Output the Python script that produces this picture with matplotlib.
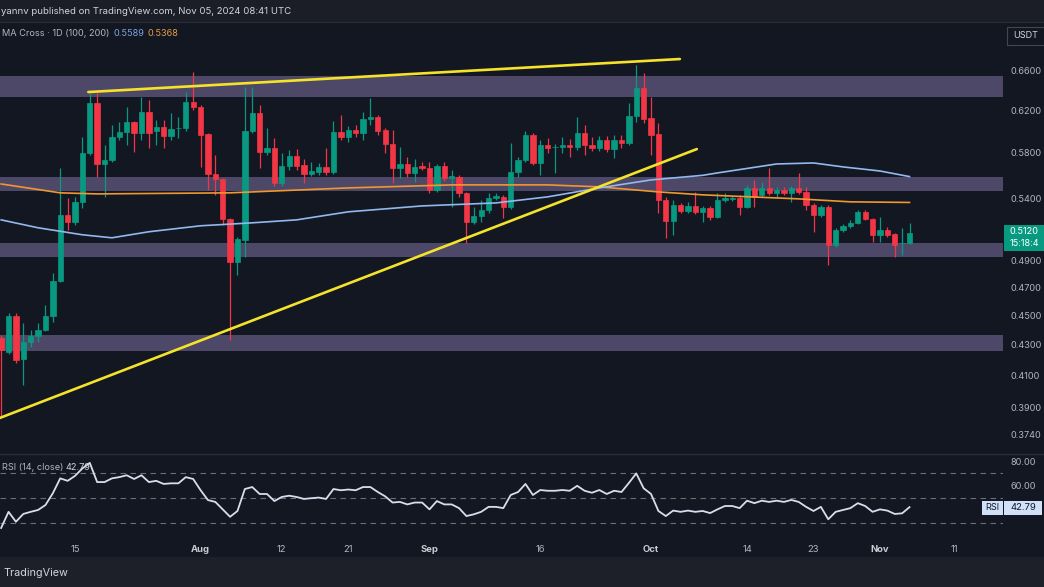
import matplotlib
matplotlib.use("Agg")
import numpy as np
import pandas as pd
import matplotlib.pyplot as plt
from matplotlib.patches import Rectangle
from matplotlib.lines import Line2D
from matplotlib.ticker import FixedLocator, NullLocator, FuncFormatter

plt.rcParams['font.family'] = ['Inter', 'DejaVu Sans']

# ==================================================
# Data (XRP/USDT daily)
# ==================================================
start = "2024-07-05"

opens = [0.4347, 0.4253, 0.4499, 0.4207, 0.4320, 0.4361, 0.4402, 0.4499, 0.4752, 0.5265,
         0.5208, 0.5373, 0.5799, 0.6269, 0.5700, 0.5736, 0.5945, 0.5992, 0.6086, 0.5982,
         0.6181, 0.6001, 0.6038, 0.5955, 0.6025, 0.6029, 0.6279, 0.6230, 0.5973, 0.5612,
         0.5568, 0.5232, 0.4894, 0.5064, 0.6001, 0.6172, 0.5808, 0.5844, 0.5534, 0.5682,
         0.5772, 0.5691, 0.5612, 0.5630, 0.5674, 0.5630, 0.5992, 0.5945, 0.6010, 0.5982,
         0.6114, 0.6134, 0.6010, 0.5881, 0.5665, 0.5700, 0.5621, 0.5682, 0.5665, 0.5474,
         0.5682, 0.5577, 0.5586, 0.5449, 0.5208, 0.5257, 0.5306, 0.5406, 0.5415, 0.5331,
         0.5630, 0.5736, 0.5964, 0.5709, 0.5872, 0.5850, 0.5853, 0.5872, 0.5853, 0.5982,
         0.5872, 0.5844, 0.5918, 0.5835, 0.5918, 0.5890, 0.6143, 0.6417, 0.6124, 0.5973,
         0.5390, 0.5216, 0.5348, 0.5298, 0.5339, 0.5290, 0.5323, 0.5249, 0.5390, 0.5400,
         0.5406, 0.5331, 0.5491, 0.5432, 0.5491, 0.5449, 0.5474, 0.5449, 0.5491, 0.5457,
         0.5348, 0.5265, 0.5331, 0.5025, 0.5144, 0.5176, 0.5200, 0.5290, 0.5232, 0.5104,
         0.5144, 0.5112, 0.5037, 0.5041]
highs = [0.4365, 0.4520, 0.4520, 0.4450, 0.4402, 0.4450, 0.4577, 0.4806, 0.5665, 0.5406,
         0.5415, 0.5945, 0.6367, 0.6367, 0.5872, 0.6057, 0.6086, 0.6230, 0.6100, 0.6328,
         0.6298, 0.6105, 0.6105, 0.6172, 0.6134, 0.6377, 0.6579, 0.6250, 0.5980, 0.5781,
         0.5580, 0.5240, 0.5090, 0.6427, 0.6427, 0.6249, 0.6029, 0.5936, 0.5799, 0.5830,
         0.5835, 0.5745, 0.5718, 0.5710, 0.5844, 0.6095, 0.6153, 0.6050, 0.6057, 0.6181,
         0.6318, 0.6153, 0.6030, 0.6010, 0.5853, 0.5763, 0.5745, 0.5718, 0.5718, 0.5700,
         0.5718, 0.5647, 0.5600, 0.5460, 0.5331, 0.5390, 0.5449, 0.5450, 0.5430, 0.5890,
         0.5760, 0.6001, 0.5980, 0.5918, 0.5936, 0.5880, 0.5945, 0.5927, 0.6134, 0.6057,
         0.5945, 0.5950, 0.5955, 0.5964, 0.5964, 0.6269, 0.6652, 0.6569, 0.6328, 0.6076,
         0.5410, 0.5390, 0.5364, 0.5373, 0.5457, 0.5340, 0.5340, 0.5449, 0.5449, 0.5420,
         0.5432, 0.5517, 0.5560, 0.5542, 0.5665, 0.5500, 0.5500, 0.5510, 0.5621, 0.5500,
         0.5360, 0.5350, 0.5350, 0.5160, 0.5190, 0.5224, 0.5306, 0.5306, 0.5240, 0.5249,
         0.5168, 0.5120, 0.5160, 0.5200]
lows = [0.3843, 0.4240, 0.4180, 0.4040, 0.4287, 0.4320, 0.4395, 0.4457, 0.4740, 0.5144,
        0.5184, 0.5323, 0.5780, 0.5586, 0.5415, 0.5720, 0.5920, 0.5872, 0.5808, 0.5918,
        0.5844, 0.5872, 0.5844, 0.5918, 0.5936, 0.6000, 0.6200, 0.5674, 0.5474, 0.5432,
        0.5184, 0.4334, 0.4796, 0.4932, 0.5980, 0.5665, 0.5780, 0.5510, 0.5510, 0.5650,
        0.5650, 0.5534, 0.5590, 0.5600, 0.5600, 0.5610, 0.5920, 0.5900, 0.5945, 0.5918,
        0.6057, 0.5964, 0.5799, 0.5534, 0.5577, 0.5586, 0.5542, 0.5647, 0.5449, 0.5457,
        0.5550, 0.5331, 0.5415, 0.5041, 0.5190, 0.5208, 0.5281, 0.5390, 0.5240, 0.5310,
        0.5586, 0.5720, 0.5690, 0.5603, 0.5799, 0.5621, 0.5799, 0.5763, 0.5830, 0.5781,
        0.5820, 0.5820, 0.5810, 0.5754, 0.5844, 0.5870, 0.6086, 0.6080, 0.5781, 0.5281,
        0.5080, 0.5104, 0.5281, 0.5280, 0.5270, 0.5208, 0.5224, 0.5240, 0.5370, 0.5380,
        0.5265, 0.5320, 0.5331, 0.5410, 0.5430, 0.5406, 0.5430, 0.5373, 0.5440, 0.5306,
        0.5128, 0.5250, 0.4871, 0.5010, 0.5130, 0.5160, 0.5190, 0.5220, 0.5049, 0.5049,
        0.5090, 0.4932, 0.4947, 0.5030]
closes = [0.4267, 0.4499, 0.4201, 0.4320, 0.4361, 0.4402, 0.4499, 0.4752, 0.5265, 0.5208,
          0.5373, 0.5799, 0.6269, 0.5700, 0.5736, 0.5945, 0.5992, 0.6086, 0.5982, 0.6181,
          0.5982, 0.6038, 0.5955, 0.6020, 0.6029, 0.6279, 0.6230, 0.5964, 0.5612, 0.5568,
          0.5232, 0.4894, 0.5072, 0.6001, 0.6172, 0.5808, 0.5844, 0.5534, 0.5682, 0.5772,
          0.5682, 0.5612, 0.5638, 0.5674, 0.5630, 0.5992, 0.5945, 0.6010, 0.5982, 0.6114,
          0.6134, 0.6001, 0.5881, 0.5665, 0.5700, 0.5621, 0.5674, 0.5665, 0.5474, 0.5682,
          0.5577, 0.5590, 0.5449, 0.5208, 0.5257, 0.5306, 0.5406, 0.5423, 0.5331, 0.5630,
          0.5736, 0.5964, 0.5709, 0.5872, 0.5844, 0.5856, 0.5872, 0.5853, 0.5982, 0.5872,
          0.5844, 0.5918, 0.5835, 0.5918, 0.5890, 0.6143, 0.6417, 0.6114, 0.5964, 0.5390,
          0.5216, 0.5348, 0.5298, 0.5339, 0.5290, 0.5323, 0.5249, 0.5390, 0.5406, 0.5406,
          0.5331, 0.5491, 0.5415, 0.5491, 0.5449, 0.5474, 0.5449, 0.5491, 0.5457, 0.5348,
          0.5265, 0.5331, 0.5025, 0.5144, 0.5176, 0.5200, 0.5290, 0.5232, 0.5104, 0.5144,
          0.5104, 0.5025, 0.5041, 0.5120]

rsi = [26, 39, 31, 37.3, 39, 40.5, 44.5, 54, 66, 64,
       68, 74, 78.5, 63, 63, 66, 67, 68.5, 65.5, 68.5,
       63, 64, 61.5, 62, 62, 67, 65.5, 56.5, 48.5, 47,
       41, 35, 39.7, 57.4, 59, 53.4, 53.4, 47.7, 51, 52,
       51, 49.4, 50, 50.5, 49.4, 57.4, 56.4, 57, 56.4, 59,
       59, 55, 51.5, 46.5, 47, 45, 46.5, 46.5, 41, 47.7,
       45, 45, 42, 35.6, 37, 39, 43, 43, 42, 52.6,
       55, 61.5, 52.6, 56.6, 56, 56, 56.6, 56, 60, 56,
       54.4, 56.6, 53.4, 56, 55, 62.3, 70, 58, 53.4, 39.7,
       35.6, 40, 39, 40, 39, 39.7, 38, 41, 43.7, 43.7,
       42, 48, 46, 48, 47, 48, 47, 48.6, 47, 43,
       39.7, 43, 33, 39, 40.5, 42, 46, 43.7, 39, 41,
       40, 37.3, 37.8, 42.79]

# moving averages (day offset from start, value)
ma100_days = [0, 5, 11, 15, 20, 27, 34, 40, 47, 57, 67, 74, 81, 88, 95, 97, 105, 110, 114, 119, 123]
ma100_vals = [0.5224, 0.5160, 0.5104, 0.5080, 0.5128, 0.5176, 0.5200, 0.5224, 0.5290, 0.5339,
              0.5364, 0.5415, 0.5491, 0.5560, 0.5600, 0.5621, 0.5700, 0.5709, 0.5674, 0.5638, 0.5589]
ma200_days = [0, 8, 13, 31, 47, 61, 74, 81, 89, 95, 108, 115, 123]
ma200_vals = [0.5525, 0.5449, 0.5440, 0.5449, 0.5491, 0.5517, 0.5517, 0.5500, 0.5457, 0.5432,
              0.5398, 0.5373, 0.5368]

# horizontal supply / demand zones (low, high)
zones = [(0.6328, 0.6539), (0.5465, 0.5586), (0.4930, 0.5039), (0.4258, 0.4365)]

# trend lines (day offset, price)
upper_days = [11.8, 91.9]
upper_vals = [0.6377, 0.6714]
lower_days = [-0.2, 94.2]
lower_vals = [0.3835, 0.5834]

price_ticks = [0.66, 0.62, 0.58, 0.54, 0.49, 0.47, 0.45, 0.43, 0.41, 0.39, 0.374]
time_ticks = ["2024-07-15", "2024-08-01", "2024-08-12", "2024-08-21", "2024-09-01", "2024-09-16",
              "2024-10-01", "2024-10-14", "2024-10-23", "2024-11-01", "2024-11-11"]
time_labels = ["15", "Aug", "12", "21", "Sep", "16", "Oct", "14", "23", "Nov", "11"]

# ==================================================
# Style
# ==================================================
BG = "#131722"
GREEN = "#089981"
RED = "#f23645"
TXT = "#b2b5be"
W, H = 1044, 587

def fx(px):
    return px / W

def fy(py):
    return 1 - py / H

fig = plt.figure(figsize=(W / 100, H / 100), dpi=100, facecolor=BG)

# header / footer bands
fig.add_artist(Rectangle((0, fy(22)), 1, 22 / H, transform=fig.transFigure,
                         facecolor="#1b1e27", edgecolor="none", zorder=0))
fig.add_artist(Rectangle((0, 0), 1, 30 / H, transform=fig.transFigure,
                         facecolor="#1e2029", edgecolor="none", zorder=0))
fig.add_artist(Line2D([0, 1], [fy(22), fy(22)], transform=fig.transFigure, color="#2a2e39", lw=0.8))
fig.add_artist(Line2D([0, 1], [fy(454), fy(454)], transform=fig.transFigure, color="#2a2e39", lw=1.0))

# ==================================================
# Price panel
# ==================================================
ax = fig.add_axes([0, fy(454), fx(1003), (454 - 22) / H])
ax.set_facecolor(BG)
ax.set_yscale("log")
ax.set_ylim(0.36256, 0.71132)
ax.set_xlim(-0.156, 135.66)

x = np.arange(len(opens))
o = np.array(opens)
c = np.array(closes)
cols = np.where(c >= o, GREEN, RED)

for lo, hi in zones:
    ax.axhspan(lo, hi, color="#4e4868", zorder=1, lw=0)

ax.vlines(x, lows, highs, colors=cols, lw=0.9, zorder=3)
ax.bar(x, np.abs(c - o), bottom=np.minimum(o, c), width=0.72, color=cols,
       edgecolor=cols, lw=0.5, zorder=3)

ax.plot(ma200_days, ma200_vals, color="#f0972f", lw=1.2, zorder=4)
ax.plot(ma100_days, ma100_vals, color="#92b8ee", lw=1.2, zorder=4)
ax.plot(upper_days, upper_vals, color="#f5e22a", lw=1.9, zorder=5, solid_capstyle="round")
ax.plot(lower_days, lower_vals, color="#f5e22a", lw=1.9, zorder=5, solid_capstyle="round")

ax.yaxis.tick_right()
ax.yaxis.set_major_locator(FixedLocator(price_ticks))
ax.yaxis.set_minor_locator(NullLocator())
ax.yaxis.set_major_formatter(FuncFormatter(lambda v, p: f"{v:.4f}"))
ax.tick_params(axis="y", length=0, pad=5.5, labelsize=6.6, labelcolor=TXT)
ax.set_xticks([])
for s in ax.spines.values():
    s.set_visible(False)

# ==================================================
# RSI panel
# ==================================================
axr = fig.add_axes([0, fy(535), fx(1003), (535 - 454) / H])
axr.set_facecolor(BG)
axr.set_xlim(-0.156, 135.66)
axr.set_ylim(20.32, 85.65)
for lvl in (70, 50, 30):
    axr.axhline(lvl, color="#6a6d78", lw=0.8, dashes=(5, 4), zorder=1)
axr.plot(x, rsi, color="#d6deee", lw=1.3, zorder=3)

axr.yaxis.tick_right()
axr.set_yticks([80, 60])
axr.set_yticklabels(["80.00", "60.00"])
axr.tick_params(axis="y", length=0, pad=5.5, labelsize=6.6, labelcolor=TXT)

t0 = pd.Timestamp(start)
tick_pos = [(pd.Timestamp(t) - t0).days for t in time_ticks]
axr.set_xticks(tick_pos)
axr.set_xticklabels(time_labels)
axr.tick_params(axis="x", length=0, pad=7.0, labelsize=6.8, labelcolor=TXT)
for lab in axr.get_xticklabels():
    if lab.get_text().isalpha():
        lab.set_fontweight("bold")
        lab.set_color("#c9ccd4")
for s in axr.spines.values():
    s.set_visible(False)

# ==================================================
# Texts and labels
# ==================================================
fig.text(fx(1), fy(12), "yannv published on TradingView.com, Nov 05, 2024 08:41 UTC",
         ha="left", va="center", color="#d1d4dc", fontsize=6.9)
fig.text(fx(2), fy(34), "MA Cross \u00b7 1D (100, 200)", ha="left", va="center",
         color="#b2b5be", fontsize=6.6)
fig.text(fx(113), fy(34), "0.5589", ha="left", va="center", color="#7aa3dc", fontsize=6.6)
fig.text(fx(148), fy(34), "0.5368", ha="left", va="center", color="#e59a4a", fontsize=6.6)

fig.text(fx(2), fy(468), "RSI (14, close)", ha="left", va="center", color="#b2b5be", fontsize=6.6)
fig.text(fx(66), fy(468), "42.79", ha="left", va="center", color="#d1d4dc", fontsize=6.6)

# USDT box
fig.add_artist(Rectangle((fx(1007), fy(45)), fx(40), 18 / H, transform=fig.transFigure,
                         facecolor=BG, edgecolor="#434651", lw=0.8))
fig.text(fx(1013), fy(36), "USDT", ha="left", va="center", color="#d1d4dc", fontsize=6.6)

# last price tag
fig.add_artist(Rectangle((fx(1004), fy(251)), fx(40), 26 / H, transform=fig.transFigure,
                         facecolor=GREEN, edgecolor="none"))
fig.text(fx(1010), fy(232), "0.5120", ha="left", va="center", color="white", fontsize=6.6)
fig.text(fx(1010), fy(244), "15:18:4", ha="left", va="center", color="white", fontsize=6.6)

# RSI tag
fig.add_artist(Rectangle((fx(982), fy(515)), fx(21), 14 / H, transform=fig.transFigure,
                         facecolor="#cfe0f8", edgecolor="none"))
fig.add_artist(Rectangle((fx(1004), fy(515)), fx(38), 14 / H, transform=fig.transFigure,
                         facecolor="#cfe0f8", edgecolor="none"))
fig.text(fx(992.5), fy(508), "RSI", ha="center", va="center", color="#131722", fontsize=6.6)
fig.text(fx(1023), fy(508), "42.79", ha="center", va="center", color="#131722", fontsize=6.8)

# footer
fig.text(fx(3), fy(573), "TradingView", ha="left", va="center", color="#d1d4dc", fontsize=7.8)

fig.savefig("out.png", dpi=100, facecolor=BG)
